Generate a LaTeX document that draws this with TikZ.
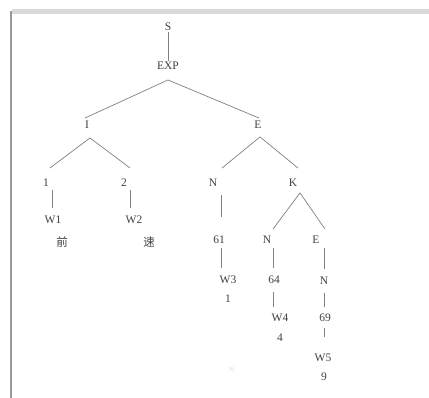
\documentclass[tikz,border=0pt]{standalone}
\usepackage{fontspec}
\setmainfont{Liberation Serif}
\newfontfamily\cjk{Noto Sans CJK SC}
\usetikzlibrary{calc}
\tikzset{
  lbl/.style={inner sep=1pt, text=black!75, font=\fontsize{11.5}{13}\selectfont},
  hz/.style={lbl, font=\cjk\fontsize{11.5}{13}\selectfont},
  edge/.style={draw=black!50, line width=0.7pt},
}
\begin{document}
\begin{tikzpicture}[x=1pt, y=-1pt]
\useasboundingbox (0,0) rectangle (429,398);
% page frame
\fill[black!15] (12,9.5) rectangle (429,14);
\draw[black!40, line width=2.5pt] (11,11) -- (11,398);

% labels
\node[lbl] (s) at (168,27) {S};
\node[lbl] (exp) at (168,66) {EXP};
\node[lbl] (i) at (87,125) {I};
\node[lbl] (e) at (258,125) {E};
\node[lbl] (one) at (46,183) {1};
\node[lbl] (two) at (124,183) {2};
\node[lbl] (w1) at (53,220) {W1};
\node[hz] (qian) at (62,242) {前};
\node[lbl] (w2) at (134,220) {W2};
\node[hz] (su) at (149,242) {速};
\node[lbl] (n) at (213,183) {N};
\node[lbl] (k) at (293,183) {K};
\node[lbl] (sixone) at (219,240) {61};
\node[lbl] (w3) at (228,280) {W3};
\node[lbl] (dthree) at (228,299) {1};
\node[lbl] (nk) at (267,240) {N};
\node[lbl] (ek) at (316,240) {E};
\node[lbl] (sixfour) at (274,280) {64};
\node[lbl] (w4) at (280,318) {W4};
\node[lbl] (dfour) at (280,338) {4};
\node[lbl] (ne) at (324,281) {N};
\node[lbl] (sixnine) at (325,318) {69};
\node[lbl] (w5) at (323,358) {W5};
\node[lbl] (dnine) at (324,377) {9};
\node[inner sep=1pt, text=black!12, font=\fontsize{7}{8}\selectfont] (pg) at (231,369) {36};

% branch points
\coordinate (expfork) at ($(exp.south)+(0,9)$);
\coordinate (ifork) at ($(i.south)+(3,8)$);
\coordinate (efork) at ($(e.south)+(2,7)$);
\coordinate (kfork) at ($(k.south)+(7,5)$);

% connectors
\draw[edge] (s) -- (exp);
\draw[edge] ($(i.north)+(-2,-2)$) -- (expfork) -- ($(e.north)+(1,-2)$);
\draw[edge] ($(one.north)+(4,-10)$) -- (ifork) -- ($(two.north)+(6,-10)$);
\draw[edge] ($(one.south)+(6,2)$) -- ($(w1.north)+(-1,-7)$);
\draw[edge] ($(two.south)+(6,2)$) -- ($(w2.north)+(-4,-7)$);
\draw[edge] ($(n.north)+(9,-10)$) -- (efork) -- ($(k.north)+(5,-10)$);
\draw[edge] ($(n.south)+(8,7)$) -- ($(sixone.north)+(2,-18)$);
\draw[edge] ($(sixone.south)+(2,3)$) -- ($(w3.north)+(-7,-7)$);
\draw[edge] ($(nk.north)+(6,-6)$) -- (kfork) -- ($(ek.north)+(9,-6)$);
\draw[edge] ($(nk.south)+(6,3)$) -- ($(sixfour.north)+(-1,-7)$);
\draw[edge] ($(ek.south)+(8,3)$) -- ($(ne.north)+(0,-7)$);
\draw[edge] ($(sixfour.south)+(-1,7)$) -- ($(w4.north)+(-7,-6)$);
\draw[edge] ($(ne.south)+(0,7)$) -- ($(sixnine.north)+(-1,-6)$);
\draw[edge] ($(sixnine.south)+(-1,5)$) -- ($(w5.north)+(1,-16)$);
\end{tikzpicture}
\end{document}
